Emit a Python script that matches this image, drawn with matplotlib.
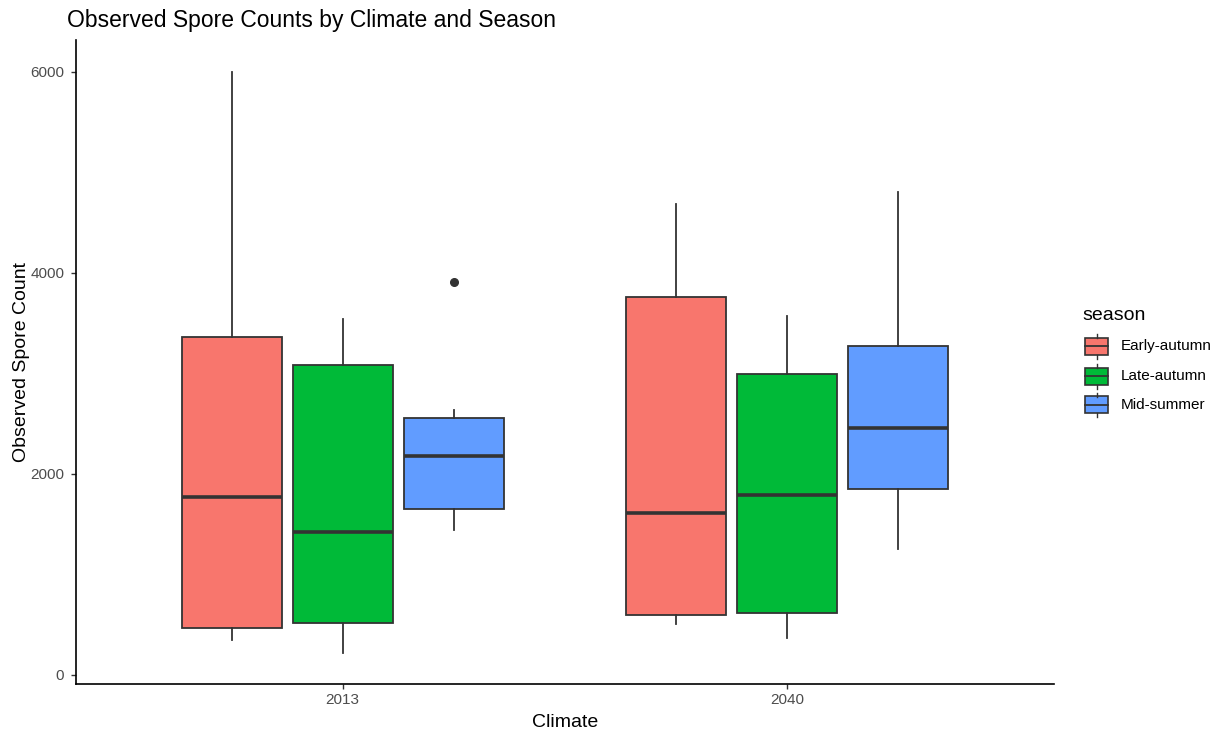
import matplotlib
matplotlib.use("Agg")
import matplotlib.pyplot as plt
from matplotlib.patches import Rectangle
from matplotlib.lines import Line2D

plt.rcParams['font.family'] = ['Liberation Sans', 'DejaVu Sans']

climates = ["2013", "2040"]
seasons = ["Early-autumn", "Late-autumn", "Mid-summer"]
colors = ["#F8766D", "#00BA38", "#619CFF"]

# five-number summaries per climate, in season order
whisker_low = {"2013": [350, 215, 1445], "2040": [505, 370, 1250]}
q1 = {"2013": [465, 515, 1655], "2040": [595, 620, 1850]}
median = {"2013": [1775, 1425, 2180], "2040": [1615, 1790, 2460]}
q3 = {"2013": [3365, 3085, 2555], "2040": [3760, 2990, 3275]}
whisker_high = {"2013": [6000, 3540, 2635], "2040": [4685, 3575, 4810]}
outliers = {"2013": [[], [], [3915]], "2040": [[], [], []]}

W, H = 1219, 733
fig = plt.figure(figsize=(W / 100, H / 100), dpi=100)
ax = fig.add_axes([76 / W, (H - 684) / H, (1054 - 76) / W, (684 - 40) / H])

edge = "#333333"
offsets = [-0.25, 0.0, 0.25]
for ci, clim in enumerate(climates):
    for si, season in enumerate(seasons):
        st = dict(whislo=whisker_low[clim][si], q1=q1[clim][si], med=median[clim][si],
                  q3=q3[clim][si], whishi=whisker_high[clim][si],
                  fliers=outliers[clim][si], label=season)
        ax.bxp([st], positions=[ci + 1 + offsets[si]], widths=0.225, patch_artist=True,
               showcaps=False,
               boxprops=dict(facecolor=colors[si], edgecolor=edge, linewidth=1.3),
               whiskerprops=dict(color=edge, linewidth=1.3),
               medianprops=dict(color=edge, linewidth=2.6, solid_capstyle='butt'),
               flierprops=dict(marker='o', markerfacecolor=edge, markeredgecolor=edge,
                               markersize=5.5), manage_ticks=False)

ax.set_xlim(0.4, 2.6)
ax.set_ylim(-90, 6318)
ax.set_xticks([1, 2])
ax.set_xticklabels(climates)
ax.set_yticks([0, 2000, 4000, 6000])
ax.set_yticklabels(["0", "2000", "4000", "6000"])
for side in ["top", "right"]:
    ax.spines[side].set_visible(False)
for side in ["left", "bottom"]:
    ax.spines[side].set_linewidth(1.2)
    ax.spines[side].set_color("black")
ax.tick_params(axis="both", colors="#333333", labelcolor="#4D4D4D", labelsize=11,
               length=3.5, width=1.0)
ax.tick_params(axis="y", pad=5)
ax.tick_params(axis="x", pad=3)
ax.set_xlabel("Climate", fontsize=14, color="black", labelpad=5)
ax.set_ylabel("Observed Spore Count", fontsize=14, color="black", labelpad=0)
fig.text(67 / W, 1 - 20 / H, "Observed Spore Counts by Climate and Season",
         fontsize=16.5, color="black", ha="left", va="center")

# legend drawn as small box glyphs
fig.text(1082 / W, 1 - 315 / H, "season", fontsize=14, color="black",
         ha="left", va="center")
key_y = [346, 376, 405]
for si, season in enumerate(seasons):
    yc = 1 - key_y[si] / H
    x0, x1 = 1085 / W, 1108 / W
    hh = 8.5 / H
    fig.patches.append(Rectangle((x0, yc - hh), x1 - x0, 2 * hh, transform=fig.transFigure,
                                 facecolor=colors[si], edgecolor=edge, linewidth=1.2))
    fig.lines.append(Line2D([x0, x1], [yc, yc], transform=fig.transFigure,
                            color=edge, linewidth=1.3))
    xm = (x0 + x1) / 2
    fig.lines.append(Line2D([xm, xm], [yc + hh, yc + hh + 4 / H], transform=fig.transFigure,
                            color=edge, linewidth=1.0))
    fig.lines.append(Line2D([xm, xm], [yc - hh, yc - hh - 4 / H], transform=fig.transFigure,
                            color=edge, linewidth=1.0))
    fig.text(1121 / W, yc, season, fontsize=11, color="black", ha="left", va="center")

fig.savefig("out.png", dpi=100, facecolor="white")
